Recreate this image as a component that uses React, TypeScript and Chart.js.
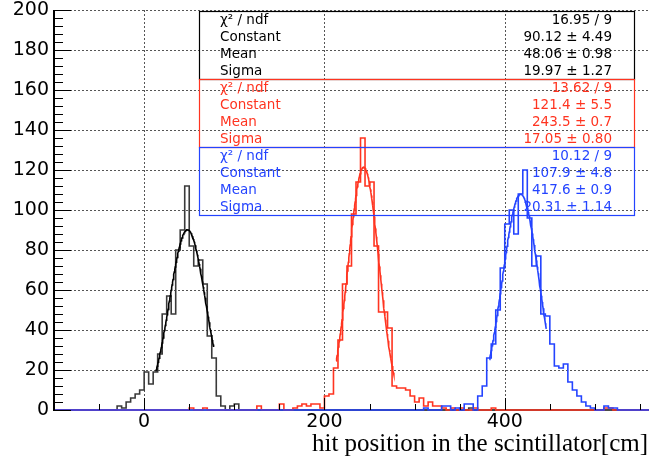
import React, { useEffect, useRef } from 'react';
import { Chart, registerables } from 'chart.js';

Chart.register(...registerables);

// ---------- axis ranges / ticks ----------
const X_MIN = -100;
const X_MAX = 560;
const Y_MIN = 0;
const Y_MAX = 200;
const BIN_WIDTH = 5;
const xTickLabels = [0, 200, 400];
const xMinorStep = 50;
const yTickLabels = [0, 20, 40, 60, 80, 100, 120, 140, 160, 180, 200];
const yMinorStep = 4;
const xTitle = 'hit position in the scintillator[cm]';

// ---------- histogram contents (bin low edge -> entries) ----------
const blackBinLow = [-30, -25, -20, -15, -10, -5, 0, 5, 10, 15, 20, 25, 30, 35, 40, 45, 50, 55, 60, 65, 70, 75, 80, 85, 95, 100, 360];
const blackCounts = [2, 1, 4, 6, 8, 10, 19, 13, 19, 28, 48, 57, 48, 80, 90, 112, 82, 72, 75, 63, 37, 26, 7, 2, 2, 3, 1];

const redBinLow = [50, 65, 125, 150, 165, 170, 175, 180, 185, 190, 195, 200, 205, 210, 215, 220, 225, 230, 235, 240, 245, 250, 255, 260, 265, 270, 275, 280, 285, 290, 295, 300, 305, 310, 315, 320, 325, 330, 340, 350, 365, 385, 510, 515];
const redCounts = [1, 1, 2, 3, 1, 2, 3, 2, 3, 3, 1, 7, 8, 21, 35, 63, 72, 98, 114, 136, 112, 114, 82, 49, 49, 41, 12, 11, 11, 10, 7, 4, 6, 2, 4, 2, 2, 1, 1, 1, 1, 1, 1, 1];

const blueBinLow = [310, 330, 335, 345, 355, 360, 370, 375, 380, 385, 390, 395, 400, 405, 410, 415, 420, 425, 430, 435, 440, 445, 450, 455, 460, 465, 470, 475, 480, 485, 490, 495, 510, 515, 520];
const blueCounts = [1, 2, 2, 1, 3, 3, 7, 12, 26, 33, 50, 71, 93, 100, 88, 108, 120, 96, 72, 77, 48, 47, 33, 22, 21, 23, 14, 10, 7, 4, 2, 1, 2, 1, 1];

// ---------- gaussian fit results (black, red, blue) ----------
const fitConstant = [90.12, 121.4, 107.9];
const fitMean = [48.06, 243.5, 417.6];
const fitSigma = [19.97, 17.05, 20.31];
const fitRangeLow = [13, 213, 383];
const fitRangeHigh = [77, 277, 446];

// ---------- stat box texts ----------
const statLabels = ['χ² / ndf', 'Constant', 'Mean', 'Sigma'];
const blackStats = ['16.95 / 9', '90.12 ± 4.49', '48.06 ± 0.98', '19.97 ± 1.27'];
const redStats = ['13.62 / 9', '121.4 ± 5.5', '243.5 ± 0.7', '17.05 ± 0.80'];
const blueStats = ['10.12 / 9', '107.9 ± 4.8', '417.6 ± 0.9', '20.31 ± 1.14'];

const BLACK = '#000000';
const HIST_BLACK = '#3a3a3a';
const RED = '#ff3420';
const BLUE = '#2444ff';

function buildHist(lows: number[], counts: number[]) {
  const m = new Map<number, number>();
  lows.forEach((l, i) => m.set(l, counts[i]));
  const pts: { x: number; y: number }[] = [];
  for (let e = X_MIN; e < X_MAX; e += BIN_WIDTH) pts.push({ x: e, y: m.get(e) ?? 0 });
  pts.push({ x: X_MAX, y: 0 });
  return pts;
}

function buildFit(i: number) {
  const pts: { x: number; y: number }[] = [];
  const a = fitConstant[i], mu = fitMean[i], s = fitSigma[i];
  for (let x = fitRangeLow[i]; x <= fitRangeHigh[i] + 1e-9; x += 0.5) {
    pts.push({ x, y: a * Math.exp(-0.5 * ((x - mu) / s) ** 2) });
  }
  return pts;
}

const SANS = '"DejaVu Sans", "Liberation Sans", Arial, sans-serif';
const SERIF = '"Liberation Serif", "Times New Roman", serif';

const rootPlugin = {
  id: 'rootStyle',
  beforeDraw(chart: any) {
    const { ctx, width, height } = chart;
    ctx.save();
    ctx.fillStyle = '#ffffff';
    ctx.fillRect(0, 0, width, height);
    ctx.restore();
  },
  beforeDatasetsDraw(chart: any) {
    const { ctx, chartArea: a, scales } = chart;
    const x = scales.x, y = scales.y;
    ctx.save();
    ctx.strokeStyle = '#555555';
    ctx.lineWidth = 1;
    ctx.setLineDash([2, 2]);
    for (const v of yTickLabels) {
      if (v === Y_MIN) continue;
      const py = Math.round(y.getPixelForValue(v)) + 0.5;
      ctx.beginPath(); ctx.moveTo(a.left, py); ctx.lineTo(a.right, py); ctx.stroke();
    }
    for (const v of xTickLabels) {
      const px = Math.round(x.getPixelForValue(v)) + 0.5;
      ctx.beginPath(); ctx.moveTo(px, a.top); ctx.lineTo(px, a.bottom); ctx.stroke();
    }
    ctx.setLineDash([]);
    ctx.strokeStyle = BLACK;
    ctx.beginPath(); ctx.moveTo(a.left, a.bottom); ctx.lineTo(a.right, a.bottom); ctx.stroke();
    ctx.restore();
  },
  afterDatasetsDraw(chart: any) {
    const { ctx, chartArea: a, scales } = chart;
    const x = scales.x, y = scales.y;
    ctx.save();
    // left axis
    ctx.strokeStyle = BLACK;
    ctx.lineWidth = 2;
    ctx.beginPath(); ctx.moveTo(a.left, a.top); ctx.lineTo(a.left, a.bottom + 1); ctx.stroke();
    // y ticks
    ctx.lineWidth = 1;
    for (let v = Y_MIN; v <= Y_MAX; v += yMinorStep) {
      const major = yTickLabels.includes(v);
      const py = Math.round(y.getPixelForValue(v)) + 0.5;
      ctx.beginPath(); ctx.moveTo(a.left, py); ctx.lineTo(a.left + (major ? 17 : 9), py); ctx.stroke();
    }
    // x ticks
    for (let v = X_MIN + xMinorStep; v < X_MAX; v += xMinorStep) {
      const major = xTickLabels.includes(v);
      const px = Math.round(x.getPixelForValue(v)) + 0.5;
      ctx.beginPath(); ctx.moveTo(px, a.bottom); ctx.lineTo(px, a.bottom - (major ? 12 : 6)); ctx.stroke();
    }
    // stat boxes
    const boxLeft = 199.5, boxRight = 634.5, boxH = 68;
    const boxes = [
      { top: 11.5, color: BLACK, vals: blackStats },
      { top: 79.5, color: RED, vals: redStats },
      { top: 147.5, color: BLUE, vals: blueStats },
    ];
    ctx.font = `13.5px ${SANS}`;
    ctx.textBaseline = 'middle';
    for (const b of boxes) {
      ctx.strokeStyle = b.color;
      ctx.lineWidth = 1.2;
      ctx.strokeRect(boxLeft, b.top, boxRight - boxLeft, boxH);
      ctx.fillStyle = b.color;
      for (let i = 0; i < 4; i++) {
        const ty = b.top + 9 + 17 * i;
        ctx.textAlign = 'left';
        ctx.fillText(statLabels[i], 220, ty);
        ctx.textAlign = 'right';
        ctx.fillText(b.vals[i], 612, ty);
      }
    }
    // x title
    ctx.fillStyle = BLACK;
    ctx.font = `25px ${SERIF}`;
    ctx.textAlign = 'right';
    ctx.textBaseline = 'alphabetic';
    ctx.fillText(xTitle, 648, 451);
    ctx.restore();
  },
};

export default function App() {
  const ref = useRef<HTMLCanvasElement>(null);
  useEffect(() => {
    const histDs = (label: string, lows: number[], counts: number[], color: string) => ({
      label,
      data: buildHist(lows, counts),
      borderColor: color,
      borderWidth: 1.6,
      stepped: 'before' as const,
      pointRadius: 0,
      fill: false,
      clip: false as any,
    });
    const fitDs = (label: string, i: number, color: string) => ({
      label,
      data: buildFit(i),
      borderColor: color,
      borderWidth: 1.6,
      pointRadius: 0,
      tension: 0,
      fill: false,
    });
    const chart = new Chart(ref.current!, {
      type: 'line',
      data: {
        datasets: [
          fitDs('blue fit', 2, BLUE),
          histDs('blue', blueBinLow, blueCounts, BLUE),
          fitDs('red fit', 1, RED),
          histDs('red', redBinLow, redCounts, RED),
          fitDs('black fit', 0, BLACK),
          histDs('black', blackBinLow, blackCounts, HIST_BLACK),
        ] as any,
      },
      options: {
        animation: false,
        responsive: false,
        parsing: false as any,
        normalized: true,
        layout: { padding: { top: 10, left: 0, right: 0, bottom: 0 } },
        plugins: { legend: { display: false }, tooltip: { enabled: false }, title: { display: false } },
        scales: {
          x: {
            type: 'linear',
            min: X_MIN,
            max: X_MAX,
            grid: { display: false, drawTicks: false },
            border: { display: false },
            afterBuildTicks: (s: any) => { s.ticks = xTickLabels.map((v) => ({ value: v })); },
            afterFit: (s: any) => { s.height = 61; s.paddingLeft = 0; s.paddingRight = 0; },
            ticks: {
              color: BLACK,
              font: { family: SANS, size: 19 },
              padding: 1,
              maxRotation: 0,
              autoSkip: false,
              callback: (v: any) => String(v),
            },
          },
          y: {
            type: 'linear',
            min: Y_MIN,
            max: Y_MAX,
            grid: { display: false, drawTicks: false },
            border: { display: false },
            afterBuildTicks: (s: any) => { s.ticks = yTickLabels.map((v) => ({ value: v })); },
            afterFit: (s: any) => { s.width = 54; s.paddingTop = 0; s.paddingBottom = 0; },
            ticks: {
              color: BLACK,
              font: { family: SANS, size: 19 },
              padding: 5,
              autoSkip: false,
              callback: (v: any) => String(v),
            },
          },
        },
      },
      plugins: [rootPlugin],
    });
    return () => chart.destroy();
  }, []);
  return (
    <div style={{ position: 'fixed', left: 0, top: 0, width: 649, height: 471, background: '#fff' }}>
      <canvas ref={ref} width={649} height={471} style={{ display: 'block', width: 649, height: 471 }} />
    </div>
  );
}
